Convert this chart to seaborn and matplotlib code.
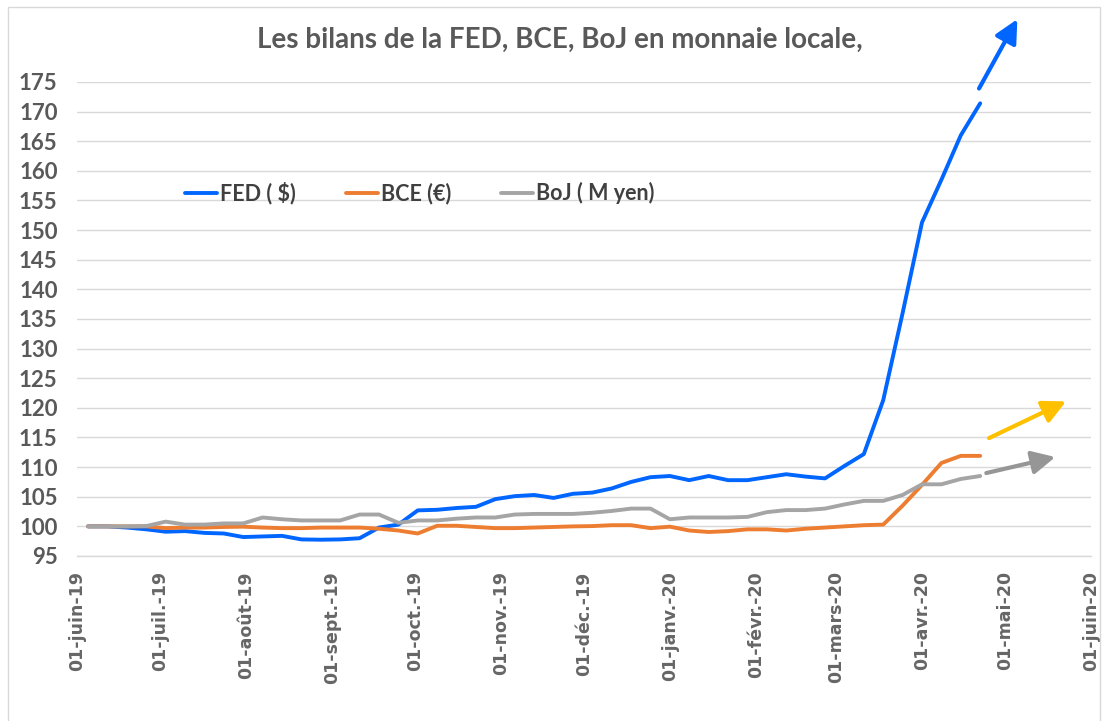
#!/usr/bin/env python3

import matplotlib
matplotlib.use('Agg')
import matplotlib.pyplot as plt   # plotting
import matplotlib.patches as mpatches
import seaborn as sns             # line plotting
import pandas as pd               # data handling

# weekly balance sheets, base 100 = 5 June 2019
DATES = pd.date_range('2019-06-05', periods=47, freq='7D')

FED = [100.0, 100.0, 99.8, 99.5, 99.1, 99.2, 98.9, 98.8, 98.2, 98.3, 98.4, 97.8,
       97.75, 97.8, 98.0, 99.8, 100.3, 102.7, 102.8, 103.1, 103.3, 104.6, 105.1,
       105.3, 104.8, 105.5, 105.7, 106.4, 107.5, 108.3, 108.5, 107.8, 108.5, 107.8,
       107.8, 108.3, 108.8, 108.4, 108.1, 110.2, 112.2, 121.3, 136.0, 151.3, 158.5,
       166.0, 171.4]

BCE = [100.0, 100.0, 100.0, 100.0, 99.7, 99.8, 99.8, 99.9, 99.95, 99.8, 99.7, 99.7,
       99.8, 99.8, 99.8, 99.6, 99.3, 98.8, 100.1, 100.1, 99.9, 99.7, 99.7, 99.8,
       99.9, 100.0, 100.05, 100.2, 100.2, 99.7, 99.95, 99.3, 99.05, 99.2, 99.5, 99.5,
       99.3, 99.6, 99.8, 100.0, 100.2, 100.3, 103.5, 107.0, 110.7, 111.9, 111.9]

BOJ = [100.0, 100.0, 100.0, 100.05, 100.8, 100.3, 100.3, 100.5, 100.5, 101.5, 101.2,
       101.0, 101.0, 101.0, 102.0, 102.0, 100.6, 101.0, 101.0, 101.3, 101.5, 101.5,
       102.0, 102.1, 102.1, 102.1, 102.3, 102.6, 103.0, 103.0, 101.2, 101.5, 101.5,
       101.5, 101.6, 102.4, 102.75, 102.75, 103.0, 103.7, 104.3, 104.3, 105.3, 107.1,
       107.1, 108.0, 108.5]

SERIES = ['FED ( $)', 'BCE (€)', 'BoJ ( M yen)']
COLORS = ['#0066FF', '#ED7D31', '#A5A5A5']

MONTHS = pd.date_range('2019-06-01', '2020-06-01', freq='MS')
MONTH_LABELS = ['01-juin-19', '01-juil.-19', '01-août-19', '01-sept.-19', '01-oct.-19',
                '01-nov.-19', '01-déc.-19', '01-janv.-20', '01-févr.-20', '01-mars-20',
                '01-avr.-20', '01-mai-20', '01-juin-20']

# trend arrows drawn over the chart: (start date, start value, end date, end value, colour)
ARROWS = [
    ('2020-04-21 14:00', 173.9, '2020-05-05 10:00', 185.6, '#0066FF'),
    ('2020-04-25 05:00', 114.9, '2020-05-23 00:00', 121.1, '#FFC000'),
    ('2020-04-24 05:00', 109.0, '2020-05-19 03:00', 111.7, '#969696'),
]

TEXT = '#595959'
GRID = '#D9D9D9'

sns.set_theme(style='white')
plt.rcParams['font.family'] = ['Lato', 'DejaVu Sans']

df = pd.DataFrame({'date': list(DATES) * 3,
                   'valeur': FED + BCE + BOJ,
                   'serie': [s for s in SERIES for _ in DATES]})

fig = plt.figure(figsize=(11.02, 7.21), dpi=100)
ax = fig.add_axes([77 / 1102, 1 - 556 / 721, 1014 / 1102, 474 / 721])

sns.lineplot(data=df, x='date', y='valeur', hue='serie', hue_order=SERIES,
             palette=COLORS, linewidth=2.8, ax=ax)

ax.set_xlim(pd.Timestamp('2019-06-01'), pd.Timestamp('2020-06-01'))
ax.set_ylim(95, 175)
ax.set_yticks(range(95, 176, 5))
ax.set_xticks(MONTHS)
ax.set_xticklabels(MONTH_LABELS, rotation=90, family='DejaVu Sans',
                   fontsize=12.5, fontweight='bold', color='#666666')
for lab in ax.get_yticklabels():
    lab.set_fontweight('bold')
    lab.set_fontsize(16)
    lab.set_color(TEXT)
ax.set_xlabel('')
ax.set_ylabel('')

ax.grid(axis='y', color=GRID, linewidth=1.0)
ax.grid(axis='x', visible=False)
for side in ['left', 'right', 'top']:
    ax.spines[side].set_visible(False)
ax.spines['bottom'].set_color(GRID)
ax.spines['bottom'].set_linewidth(1.0)
ax.tick_params(axis='x', direction='out', length=6, width=1, color=GRID, pad=5)
ax.tick_params(axis='y', length=0, pad=14)

handles, labels = ax.get_legend_handles_labels()
ax.legend(handles, labels, loc='center', bbox_to_anchor=(0.338, 0.766), ncol=3,
          frameon=False, handlelength=1.5, handletextpad=0.15, columnspacing=2.3,
          prop={'weight': 'bold', 'size': 15.5}, labelcolor='#404040')

for x0, y0, x1, y1, col in ARROWS:
    ax.annotate('', xy=(pd.Timestamp(x1), y1), xytext=(pd.Timestamp(x0), y0),
                annotation_clip=False,
                arrowprops=dict(arrowstyle='-|>,head_length=0.7,head_width=0.35',
                                color=col, lw=3, mutation_scale=20,
                                shrinkA=0, shrinkB=0))

fig.text(560 / 1102, 1 - 40 / 721, 'Les bilans de la FED, BCE, BoJ en monnaie locale,',
         ha='center', va='center', fontsize=20, fontweight='bold', color=TEXT)

# chart area border
fig.patches.append(mpatches.Rectangle((8 / 1102, -0.01), 1092 / 1102, 1.01 - 7 / 721,
                                      transform=fig.transFigure, fill=False,
                                      edgecolor=GRID, linewidth=1.0))

plt.savefig('out.png', dpi=100)
